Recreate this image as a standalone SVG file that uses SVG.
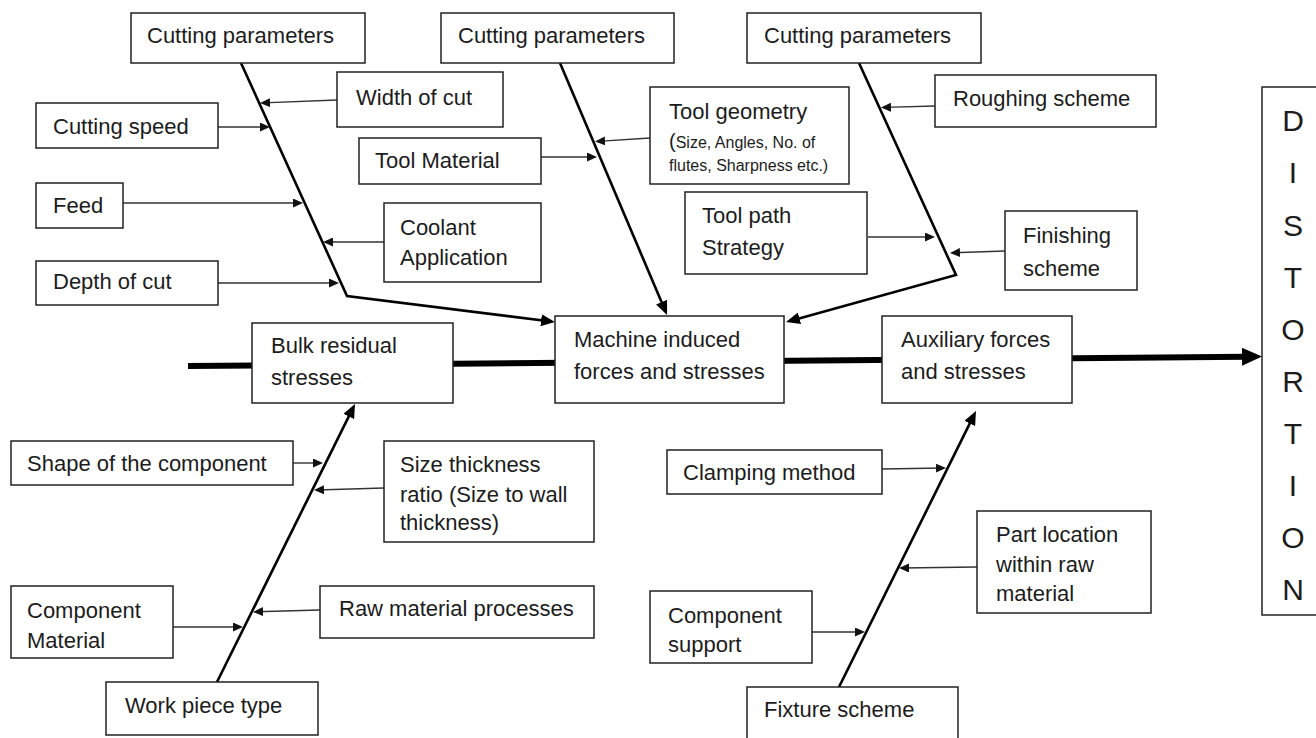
<svg xmlns="http://www.w3.org/2000/svg" width="1316" height="738" viewBox="0 0 1316 738">
<style>
.box{fill:#fff;stroke:#222;stroke-width:1.5}
.t{font-family:"Liberation Sans",Arial,sans-serif;font-size:22px;fill:#1c1c1c}
.s{font-size:16px}
.d{font-size:30px;text-anchor:middle}
.side{fill:none;stroke:#333;stroke-width:1.4}
.spine{fill:none;stroke:#000;stroke-width:2.6}
.main{fill:none;stroke:#000;stroke-width:6}
</style>
<defs>
<marker id="ah" markerUnits="userSpaceOnUse" markerWidth="10" markerHeight="9" refX="7" refY="4.5" orient="auto"><path d="M0,0 L10,4.5 L0,9 z" fill="#111"/></marker>
<marker id="sh" markerUnits="userSpaceOnUse" markerWidth="14" markerHeight="12" refX="8" refY="6" orient="auto"><path d="M0,0 L14,6 L0,12 z" fill="#000"/></marker>
<marker id="bh" markerUnits="userSpaceOnUse" markerWidth="20" markerHeight="18" refX="4" refY="9" orient="auto"><path d="M0,0 L20,9 L0,18 z" fill="#000"/></marker>
</defs>
<rect width="1316" height="738" fill="#fff"/>
<g id="connectors">
<path class="main" d="M188,366 L1246,356.7" marker-end="url(#bh)"/>
<path class="spine" d="M241,63 L347,296 L549,321.3" marker-end="url(#sh)"/>
<path class="spine" d="M560,63 L664.7,309.5" marker-end="url(#sh)"/>
<path class="spine" d="M859,63 L956,275 L791.8,320.4" marker-end="url(#sh)"/>
<path class="spine" d="M839,687 L973.3,416.4" marker-end="url(#sh)"/>
<path class="spine" d="M217,682 L352.3,409.4" marker-end="url(#sh)"/>
<path class="side" d="M337,100 L263,102.9" marker-end="url(#ah)"/>
<path class="side" d="M218,127 L267,127" marker-end="url(#ah)"/>
<path class="side" d="M123,203 L300,203" marker-end="url(#ah)"/>
<path class="side" d="M384,242 L326,242" marker-end="url(#ah)"/>
<path class="side" d="M218,283 L336,283" marker-end="url(#ah)"/>
<path class="side" d="M650,138 L598,141.4" marker-end="url(#ah)"/>
<path class="side" d="M541,157 L594,157" marker-end="url(#ah)"/>
<path class="side" d="M935,106 L884,107.4" marker-end="url(#ah)"/>
<path class="side" d="M868,237 L932,237" marker-end="url(#ah)"/>
<path class="side" d="M1005,251 L953,252.8" marker-end="url(#ah)"/>
<path class="side" d="M293,463 L320,463" marker-end="url(#ah)"/>
<path class="side" d="M384,488 L317,490" marker-end="url(#ah)"/>
<path class="side" d="M173,627 L240,627" marker-end="url(#ah)"/>
<path class="side" d="M320,610 L256,611.8" marker-end="url(#ah)"/>
<path class="side" d="M882,469 L943,468" marker-end="url(#ah)"/>
<path class="side" d="M977,567 L902,568" marker-end="url(#ah)"/>
<path class="side" d="M812,632 L862,632" marker-end="url(#ah)"/>
</g>
<g id="cp1"><rect class="box" x="131" y="13" width="234" height="50"/><text class="t" x="147" y="43">Cutting parameters</text></g>
<g id="cp2"><rect class="box" x="441" y="13" width="233" height="50"/><text class="t" x="458" y="43">Cutting parameters</text></g>
<g id="cp3"><rect class="box" x="747" y="13" width="234" height="50"/><text class="t" x="764" y="43">Cutting parameters</text></g>
<g id="width-of-cut"><rect class="box" x="337" y="72" width="166" height="55"/><text class="t" x="356" y="105">Width of cut</text></g>
<g id="cutting-speed"><rect class="box" x="36" y="103" width="182" height="45"/><text class="t" x="53" y="134">Cutting speed</text></g>
<g id="tool-material"><rect class="box" x="359" y="138" width="182" height="46"/><text class="t" x="375" y="168">Tool Material</text></g>
<g id="feed"><rect class="box" x="36" y="183" width="87" height="45"/><text class="t" x="53" y="213">Feed</text></g>
<g id="coolant"><rect class="box" x="384" y="203" width="157" height="79"/><text class="t" x="400" y="235">Coolant</text><text class="t" x="400" y="265">Application</text></g>
<g id="depth-of-cut"><rect class="box" x="36" y="261" width="182" height="44"/><text class="t" x="53" y="289">Depth of cut</text></g>
<g id="tool-geometry"><rect class="box" x="650" y="87" width="199" height="97"/><text class="t" x="669" y="119">Tool geometry</text><text class="t s" x="669" y="148"><tspan font-size="20">(</tspan>Size, Angles, No. of</text><text class="t s" x="669" y="171">flutes, Sharpness etc.)</text></g>
<g id="tool-path"><rect class="box" x="685" y="192" width="182" height="82"/><text class="t" x="702" y="223">Tool path</text><text class="t" x="702" y="255">Strategy</text></g>
<g id="roughing"><rect class="box" x="935" y="75" width="221" height="52"/><text class="t" x="953" y="106">Roughing scheme</text></g>
<g id="finishing"><rect class="box" x="1005" y="211" width="132" height="79"/><text class="t" x="1023" y="243">Finishing</text><text class="t" x="1023" y="276">scheme</text></g>
<g id="distortion"><rect class="box" x="1262" y="87" width="70" height="528"/>
<text class="t d" x="1293" y="131">D</text><text class="t d" x="1293" y="183">I</text><text class="t d" x="1293" y="236">S</text><text class="t d" x="1293" y="288">T</text><text class="t d" x="1293" y="340">O</text><text class="t d" x="1293" y="392">R</text><text class="t d" x="1293" y="444">T</text><text class="t d" x="1293" y="496">I</text><text class="t d" x="1293" y="548">O</text><text class="t d" x="1293" y="600">N</text></g>
<g id="bulk"><rect class="box" x="252" y="323" width="201" height="80"/><text class="t" x="271" y="353">Bulk residual</text><text class="t" x="271" y="385">stresses</text></g>
<g id="machine"><rect class="box" x="555" y="316" width="229" height="87"/><text class="t" x="574" y="347">Machine induced</text><text class="t" x="574" y="379">forces and stresses</text></g>
<g id="auxiliary"><rect class="box" x="882" y="316" width="190" height="87"/><text class="t" x="901" y="347">Auxiliary forces</text><text class="t" x="901" y="379">and stresses</text></g>
<g id="shape"><rect class="box" x="11" y="441" width="282" height="44"/><text class="t" x="27" y="471">Shape of the component</text></g>
<g id="size-thickness"><rect class="box" x="384" y="441" width="210" height="101"/><text class="t" x="400" y="472">Size thickness</text><text class="t" x="400" y="502">ratio (Size to wall</text><text class="t" x="400" y="530">thickness)</text></g>
<g id="component-material"><rect class="box" x="11" y="586" width="162" height="72"/><text class="t" x="27" y="618">Component</text><text class="t" x="27" y="648">Material</text></g>
<g id="raw-material"><rect class="box" x="320" y="586" width="274" height="52"/><text class="t" x="339" y="616">Raw material processes</text></g>
<g id="work-piece"><rect class="box" x="106" y="682" width="212" height="53"/><text class="t" x="125" y="713">Work piece type</text></g>
<g id="clamping"><rect class="box" x="667" y="450" width="215" height="44"/><text class="t" x="683" y="480">Clamping method</text></g>
<g id="part-location"><rect class="box" x="977" y="511" width="174" height="102"/><text class="t" x="996" y="542">Part location</text><text class="t" x="996" y="572">within raw</text><text class="t" x="996" y="601">material</text></g>
<g id="component-support"><rect class="box" x="650" y="591" width="162" height="72"/><text class="t" x="668" y="623">Component</text><text class="t" x="668" y="652">support</text></g>
<g id="fixture"><rect class="box" x="747" y="687" width="211" height="70"/><text class="t" x="764" y="717">Fixture scheme</text></g>
</svg>
